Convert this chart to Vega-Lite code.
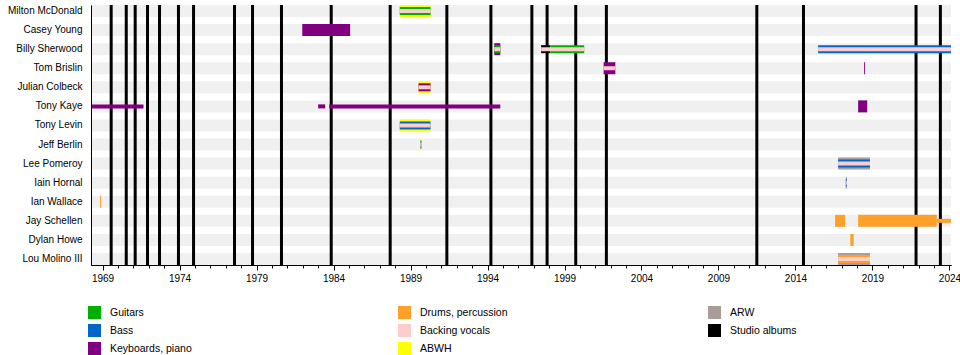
{
  "$schema": "https://vega.github.io/schema/vega-lite/v6.json",
  "autosize": {"type": "none"},
  "padding": {"left": 91, "top": 5, "right": 9, "bottom": 90},
  "width": 860,
  "height": 260,
  "background": "white",
  "config": {"font": "Liberation Sans", "view": {"stroke": null}},
  "datasets": {
    "members": [
      {"member": "Milton McDonald"}, {"member": "Casey Young"}, {"member": "Billy Sherwood"},
      {"member": "Tom Brislin"}, {"member": "Julian Colbeck"}, {"member": "Tony Kaye"},
      {"member": "Tony Levin"}, {"member": "Jeff Berlin"}, {"member": "Lee Pomeroy"},
      {"member": "Iain Hornal"}, {"member": "Ian Wallace"}, {"member": "Jay Schellen"},
      {"member": "Dylan Howe"}, {"member": "Lou Molino III"}
    ],
    "albums": [
      {"album": "Yes", "year": 1969.56}, {"album": "Time and a Word", "year": 1970.54},
      {"album": "The Yes Album", "year": 1971.12}, {"album": "Fragile", "year": 1971.92},
      {"album": "Close to the Edge", "year": 1972.7}, {"album": "Tales from Topographic Oceans", "year": 1973.93},
      {"album": "Relayer", "year": 1974.91}, {"album": "Going for the One", "year": 1977.57},
      {"album": "Tormato", "year": 1978.74}, {"album": "Drama", "year": 1980.62},
      {"album": "90125", "year": 1983.85}, {"album": "Big Generator", "year": 1987.68},
      {"album": "Union", "year": 1991.36}, {"album": "Talk", "year": 1994.22},
      {"album": "Keys to Ascension", "year": 1996.88}, {"album": "Open Your Eyes", "year": 1997.87},
      {"album": "The Ladder", "year": 1999.73}, {"album": "Magnification", "year": 2001.72},
      {"album": "Fly from Here", "year": 2011.49}, {"album": "Heaven & Earth", "year": 2014.52},
      {"album": "The Quest", "year": 2021.83}, {"album": "Mirror to the Sky", "year": 2023.41}
    ],
    "stints": [
      {"member": "Milton McDonald", "role": "ABWH", "start": 1988.3, "end": 1990.3, "tier": 1},
      {"member": "Milton McDonald", "role": "Guitars", "start": 1988.3, "end": 1990.3, "tier": 2},
      {"member": "Milton McDonald", "role": "Backing vocals", "start": 1988.3, "end": 1990.3, "tier": 3},
      {"member": "Casey Young", "role": "Keyboards, piano", "start": 1981.97, "end": 1985.08, "tier": 1},
      {"member": "Billy Sherwood", "role": "Keyboards, piano", "start": 1994.44, "end": 1994.83, "tier": 1},
      {"member": "Billy Sherwood", "role": "Guitars", "start": 1994.44, "end": 1994.83, "tier": 2},
      {"member": "Billy Sherwood", "role": "Backing vocals", "start": 1994.44, "end": 1994.83, "tier": 3},
      {"member": "Billy Sherwood", "role": "Studio albums", "start": 1997.48, "end": 1998.07, "tier": 2},
      {"member": "Billy Sherwood", "role": "Guitars", "start": 1998.07, "end": 2000.28, "tier": 2},
      {"member": "Billy Sherwood", "role": "Backing vocals", "start": 1997.48, "end": 2000.28, "tier": 3},
      {"member": "Billy Sherwood", "role": "Bass", "start": 2015.47, "end": 2024.1, "tier": 2},
      {"member": "Billy Sherwood", "role": "Backing vocals", "start": 2015.47, "end": 2024.1, "tier": 3},
      {"member": "Tom Brislin", "role": "Keyboards, piano", "start": 2001.54, "end": 2002.3, "tier": 1},
      {"member": "Tom Brislin", "role": "Backing vocals", "start": 2001.54, "end": 2002.3, "tier": 3},
      {"member": "Tom Brislin", "role": "Keyboards, piano", "start": 2018.46, "end": 2018.52, "tier": 1},
      {"member": "Julian Colbeck", "role": "ABWH", "start": 1989.52, "end": 1990.3, "tier": 1},
      {"member": "Julian Colbeck", "role": "Keyboards, piano", "start": 1989.52, "end": 1990.3, "tier": 2},
      {"member": "Julian Colbeck", "role": "Backing vocals", "start": 1989.52, "end": 1990.3, "tier": 3},
      {"member": "Tony Kaye", "role": "Keyboards, piano", "start": 1968.25, "end": 1971.66, "tier": 3},
      {"member": "Tony Kaye", "role": "Keyboards, piano", "start": 1983.0, "end": 1983.46, "tier": 3},
      {"member": "Tony Kaye", "role": "Keyboards, piano", "start": 1983.72, "end": 1994.83, "tier": 3},
      {"member": "Tony Kaye", "role": "Keyboards, piano", "start": 2018.07, "end": 2018.66, "tier": 1},
      {"member": "Tony Levin", "role": "ABWH", "start": 1988.3, "end": 1990.3, "tier": 1},
      {"member": "Tony Levin", "role": "Bass", "start": 1988.3, "end": 1990.3, "tier": 2},
      {"member": "Tony Levin", "role": "Backing vocals", "start": 1988.3, "end": 1990.3, "tier": 3},
      {"member": "Jeff Berlin", "role": "ABWH", "start": 1989.64, "end": 1989.71, "tier": 1},
      {"member": "Jeff Berlin", "role": "Bass", "start": 1989.64, "end": 1989.71, "tier": 2},
      {"member": "Jeff Berlin", "role": "Backing vocals", "start": 1989.64, "end": 1989.71, "tier": 3},
      {"member": "Lee Pomeroy", "role": "ARW", "start": 2016.77, "end": 2018.84, "tier": 1},
      {"member": "Lee Pomeroy", "role": "Bass", "start": 2016.77, "end": 2018.84, "tier": 2},
      {"member": "Lee Pomeroy", "role": "Backing vocals", "start": 2016.77, "end": 2018.84, "tier": 3},
      {"member": "Iain Hornal", "role": "ARW", "start": 2017.27, "end": 2017.33, "tier": 1},
      {"member": "Iain Hornal", "role": "Bass", "start": 2017.27, "end": 2017.33, "tier": 2},
      {"member": "Iain Hornal", "role": "Backing vocals", "start": 2017.27, "end": 2017.33, "tier": 3},
      {"member": "Ian Wallace", "role": "Drums, percussion", "start": 1968.84, "end": 1968.9, "tier": 1},
      {"member": "Jay Schellen", "role": "Drums, percussion", "start": 2016.57, "end": 2017.22, "tier": 1},
      {"member": "Jay Schellen", "role": "Drums, percussion", "start": 2018.07, "end": 2023.18, "tier": 1},
      {"member": "Jay Schellen", "role": "Drums, percussion", "start": 2023.18, "end": 2024.1, "tier": 3},
      {"member": "Dylan Howe", "role": "Drums, percussion", "start": 2017.56, "end": 2017.78, "tier": 1},
      {"member": "Lou Molino III", "role": "ARW", "start": 2016.77, "end": 2018.84, "tier": 1},
      {"member": "Lou Molino III", "role": "Drums, percussion", "start": 2016.77, "end": 2018.84, "tier": 2},
      {"member": "Lou Molino III", "role": "Backing vocals", "start": 2016.77, "end": 2018.84, "tier": 3}
    ]
  },
  "resolve": {"scale": {"y": "independent"}, "axis": {"y": "independent", "x": "independent"}},
  "layer": [
    {
      "data": {"name": "members"},
      "mark": {"type": "bar", "color": "#f0f0f0"},
      "encoding": {
        "y": {
          "field": "member", "type": "nominal", "sort": null,
          "scale": {"paddingInner": 0.37, "paddingOuter": 0},
          "axis": {"title": null, "ticks": false, "labelPadding": 9, "domainColor": "black", "labelFontSize": 10, "labelColor": "black", "zindex": 1}
        }
      }
    },
    {
      "data": {"name": "albums"},
      "mark": {"type": "rule", "color": "black", "strokeWidth": 3},
      "encoding": {
        "x": {
          "field": "year", "type": "quantitative",
          "scale": {"domain": [1968.25, 2024.1], "nice": false, "zero": false},
          "axis": {
            "title": null, "orient": "bottom", "zindex": 1,
            "values": [1969,1970,1971,1972,1973,1974,1975,1976,1977,1978,1979,1980,1981,1982,1983,1984,1985,1986,1987,1988,1989,1990,1991,1992,1993,1994,1995,1996,1997,1998,1999,2000,2001,2002,2003,2004,2005,2006,2007,2008,2009,2010,2011,2012,2013,2014,2015,2016,2017,2018,2019,2020,2021,2022,2023,2024],
            "labels": false, "tickSize": 3, "grid": false,
            "domainColor": "black", "tickColor": "black"
          }
        }
      }
    },
    {
      "data": {"name": "stints"},
      "transform": [{"filter": "datum.tier == 1"}],
      "mark": {"type": "bar", "clip": true},
      "encoding": {
        "x": {
          "field": "start", "type": "quantitative",
          "scale": {"domain": [1968.25, 2024.1], "nice": false, "zero": false},
          "axis": {
            "title": null, "orient": "bottom", "zindex": 1,
            "values": [1969, 1974, 1979, 1984, 1989, 1994, 1999, 2004, 2009, 2014, 2019, 2024],
            "format": "d", "tickSize": 5, "labelPadding": 3, "labelOverlap": false, "labelFlush": false,
            "domainColor": "black", "tickColor": "black",
            "labelFontSize": 10, "labelColor": "black", "grid": false
          }
        },
        "x2": {"field": "end"},
        "y": {
          "field": "member", "type": "nominal",
          "scale": {
            "domain": ["Milton McDonald", "Casey Young", "Billy Sherwood", "Tom Brislin", "Julian Colbeck", "Tony Kaye", "Tony Levin", "Jeff Berlin", "Lee Pomeroy", "Iain Hornal", "Ian Wallace", "Jay Schellen", "Dylan Howe", "Lou Molino III"],
            "paddingInner": 0.37, "paddingOuter": 0
          },
          "axis": null
        },
        "color": {
          "field": "role", "type": "nominal",
          "scale": {
            "domain": ["Guitars", "Drums, percussion", "ARW", "Bass", "Backing vocals", "Studio albums", "Keyboards, piano", "ABWH"],
            "range": ["#00b000", "#ffa02a", "#ab9c9c", "#0066cc", "#ffcccc", "#000000", "#800080", "#ffff00"]
          },
          "legend": {
            "title": null, "orient": "none", "legendX": -3, "legendY": 301,
            "direction": "horizontal", "columns": 3, "gridAlign": "all",
            "columnPadding": 200, "rowPadding": 5, "padding": 0,
            "symbolType": "square", "symbolSize": 169, "symbolStrokeWidth": 0, "symbolOpacity": 1,
            "labelFontSize": 10.5, "labelOffset": 9, "labelLimit": 300, "labelColor": "black"
          }
        }
      }
    },
    {
      "data": {"name": "stints"},
      "transform": [{"filter": "datum.tier == 2"}],
      "mark": {"type": "bar", "clip": true},
      "encoding": {
        "x": {"field": "start", "type": "quantitative", "axis": null},
        "x2": {"field": "end"},
        "y": {
          "field": "member", "type": "nominal",
          "scale": {
            "domain": ["Milton McDonald", "Casey Young", "Billy Sherwood", "Tom Brislin", "Julian Colbeck", "Tony Kaye", "Tony Levin", "Jeff Berlin", "Lee Pomeroy", "Iain Hornal", "Ian Wallace", "Jay Schellen", "Dylan Howe", "Lou Molino III"],
            "paddingInner": 0.58062, "paddingOuter": 0.10531
          },
          "axis": null
        },
        "color": {"field": "role", "type": "nominal"}
      }
    },
    {
      "data": {"name": "stints"},
      "transform": [{"filter": "datum.tier == 3"}],
      "mark": {"type": "bar", "clip": true},
      "encoding": {
        "x": {"field": "start", "type": "quantitative", "axis": null},
        "x2": {"field": "end"},
        "y": {
          "field": "member", "type": "nominal",
          "scale": {
            "domain": ["Milton McDonald", "Casey Young", "Billy Sherwood", "Tom Brislin", "Julian Colbeck", "Tony Kaye", "Tony Levin", "Jeff Berlin", "Lee Pomeroy", "Iain Hornal", "Ian Wallace", "Jay Schellen", "Dylan Howe", "Lou Molino III"],
            "paddingInner": 0.79031, "paddingOuter": 0.210155
          },
          "axis": null
        },
        "color": {"field": "role", "type": "nominal"}
      }
    }
  ]
}
